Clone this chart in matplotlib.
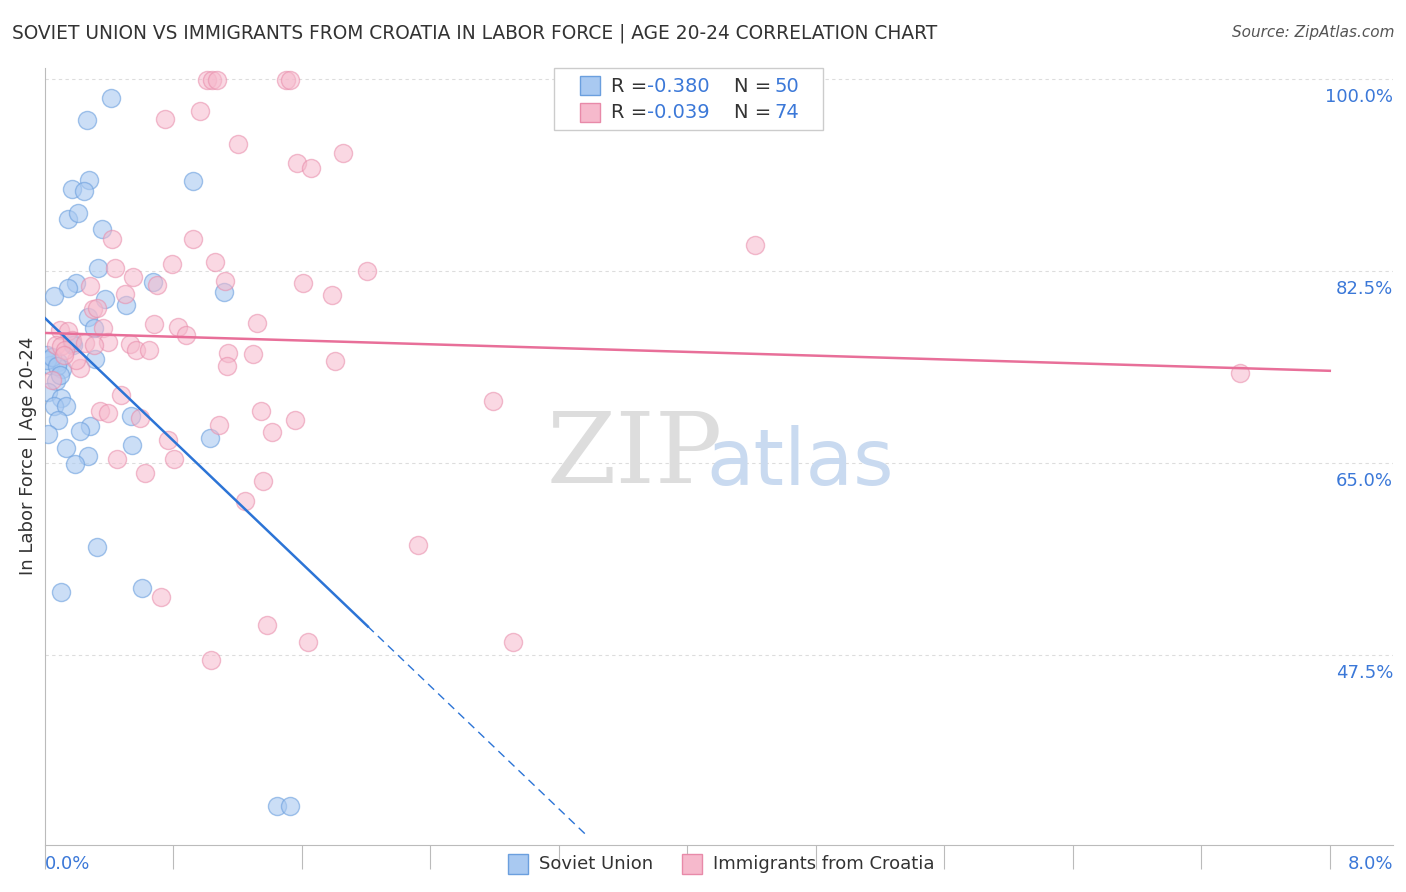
import matplotlib
matplotlib.use("Agg")
import matplotlib.pyplot as plt
import numpy as np
from matplotlib.patches import Rectangle

blue_px = [(111,98),(87,120),(89,180),(72,189),(84,191),(193,181),(68,219),(78,213),(102,229),(98,268),(76,283),(68,288),(54,296),(153,282),(224,292),(105,299),(126,305),(88,317),(94,328),(72,343),(95,359),(58,362),(47,355),(50,365),(62,369),(56,381),(48,392),(61,398),(54,406),(66,406),(58,420),(90,426),(80,431),(48,434),(131,416),(132,445),(210,438),(66,448),(88,456),(75,464),(97,547),(61,592),(142,588),(277,806),(290,806),(47,360),(52,357),(57,366),(60,375),(73,345)]
pink_px = [(207,80),(212,80),(217,80),(286,80),(290,80),(165,119),(200,111),(238,144),(297,163),(311,168),(343,153),(112,239),(193,239),(755,245),(215,262),(172,264),(115,268),(133,277),(225,281),(157,285),(303,283),(367,271),(332,295),(125,294),(93,309),(97,308),(90,286),(154,324),(178,327),(257,323),(186,335),(60,330),(68,331),(103,328),(56,345),(61,346),(72,340),(85,343),(108,342),(130,344),(136,350),(149,350),(228,353),(253,354),(335,361),(227,366),(80,368),(76,360),(65,350),(52,380),(121,395),(261,411),(100,411),(108,413),(140,418),(219,425),(272,432),(295,420),(493,401),(1240,373),(168,440),(117,459),(174,459),(145,473),(263,481),(245,501),(418,545),(161,597),(267,625),(308,642),(513,642),(211,660),(64,355),(94,345)]

soviet_x = [round((p[0]-45)/160.6, 3) for p in blue_px]
soviet_y = [round(100-(p[1]-79)/10.97, 2) for p in blue_px]
croatia_x = [round((p[0]-45)/160.6, 3) for p in pink_px]
croatia_y = [round(100-(p[1]-79)/10.97, 2) for p in pink_px]

blue_line = ([0.0, 2.01], [78.2, 50.1])
blue_dash_end = 3.38
pink_line = ([0.0, 8.0], [76.85, 73.4])
yticks = [47.5, 65.0, 82.5, 100.0]

fig = plt.figure(figsize=(14.06, 8.92), dpi=100)
ax = fig.add_axes([45/1406, 47/892, (1393-45)/1406, (845-68)/892])
ax.set_xlim(0, (1393-45)/160.6)
ax.set_ylim(100-(845-79)/10.97, 100+(79-68)/10.97)

ax.scatter(soviet_x, soviet_y, s=170, facecolor="#a9c9f1", edgecolor="#6b9fde", alpha=0.6, lw=1, zorder=3)
ax.scatter(croatia_x, croatia_y, s=170, facecolor="#f6b9cc", edgecolor="#e88aa9", alpha=0.55, lw=1, zorder=3)

ax.plot(blue_line[0], blue_line[1], color="#2c74d6", lw=1.8, zorder=4)
sl = (blue_line[1][1]-blue_line[1][0])/(blue_line[0][1]-blue_line[0][0])
ax.plot([blue_line[0][1], blue_dash_end], [blue_line[1][1], blue_line[1][0]+sl*blue_dash_end],
        color="#2c74d6", lw=1, ls=(0,(6,4)), zorder=4)
ax.plot(pink_line[0], pink_line[1], color="#e86f99", lw=1.8, zorder=4)

for y in yticks:
    ax.axhline(y, color="#dddddd", lw=0.8, ls=(0,(3,3)), zorder=1)
ax.set_yticks([])
ax.set_xticks(np.arange(0, 8.01, 0.8))
ax.tick_params(axis="x", length=17, color="#bbbbbb", labelbottom=False)
for s in ["top", "right"]:
    ax.spines[s].set_visible(False)
for s in ["left", "bottom"]:
    ax.spines[s].set_color("#bbbbbb")

for y in yticks:
    fig.text(1393/1406, 1-(79+(100-y)*10.97+18)/892, f"{y:.1f}%", ha="right", va="center", color="#3b78d8", fontsize=13)
fig.text(45/1406, 1-864/892, "0.0%", ha="left", va="center", color="#3b78d8", fontsize=13)
fig.text(1393/1406, 1-864/892, "8.0%", ha="right", va="center", color="#3b78d8", fontsize=13)

fig.text(12/1406, 1-33/892, "SOVIET UNION VS IMMIGRANTS FROM CROATIA IN LABOR FORCE | AGE 20-24 CORRELATION CHART", fontsize=13.4, color="#333333", va="center")
fig.text(1394/1406, 1-33/892, "Source: ZipAtlas.com", fontsize=11, color="#555555", ha="right", va="center", style="italic")
fig.text(28/1406, 1-456/892, "In Labor Force | Age 20-24", rotation=90, fontsize=13, color="#333333", ha="center", va="center")

fig.text(635/1406, 1-456/892, "ZIP", fontsize=72, color="#dddddd", ha="center", va="center", family="DejaVu Serif")
fig.text(800/1406, 1-463/892, "atlas", fontsize=56, color="#c9daf0", ha="center", va="center")

def fx(px): return px/1406
def fy(py): return 1-py/892
fig.patches.append(Rectangle((fx(554), fy(130)), 269/1406, 62/892, facecolor="white", edgecolor="#cccccc", lw=1, transform=fig.transFigure, zorder=5))
for i, (fc, ec, r, n) in enumerate([("#a9c9f1", "#6b9fde", "-0.380", "50"), ("#f6b9cc", "#e88aa9", "-0.039", "74")]):
    yy = 86 + i*27
    fig.patches.append(Rectangle((fx(580), fy(yy+9)), 20/1406, 19/892, facecolor=fc, edgecolor=ec, transform=fig.transFigure, zorder=6))
    fig.text(fx(611), fy(yy), "R =", fontsize=14, color="#333333", va="center", zorder=6)
    fig.text(fx(647), fy(yy), r, fontsize=14, color="#3b78d8", va="center", zorder=6)
    fig.text(fx(734), fy(yy), "N =", fontsize=14, color="#333333", va="center", zorder=6)
    fig.text(fx(774), fy(yy), n, fontsize=14, color="#3b78d8", va="center", zorder=6)

for x0, fc, ec, lab in [(508, "#a9c9f1", "#6b9fde", "Soviet Union"), (682, "#f6b9cc", "#e88aa9", "Immigrants from Croatia")]:
    fig.patches.append(Rectangle((fx(x0), fy(874)), 20/1406, 20/892, facecolor=fc, edgecolor=ec, transform=fig.transFigure))
    fig.text(fx(x0+31), fy(864), lab, fontsize=13, color="#333333", va="center")

fig.savefig("out.png", dpi=100)
